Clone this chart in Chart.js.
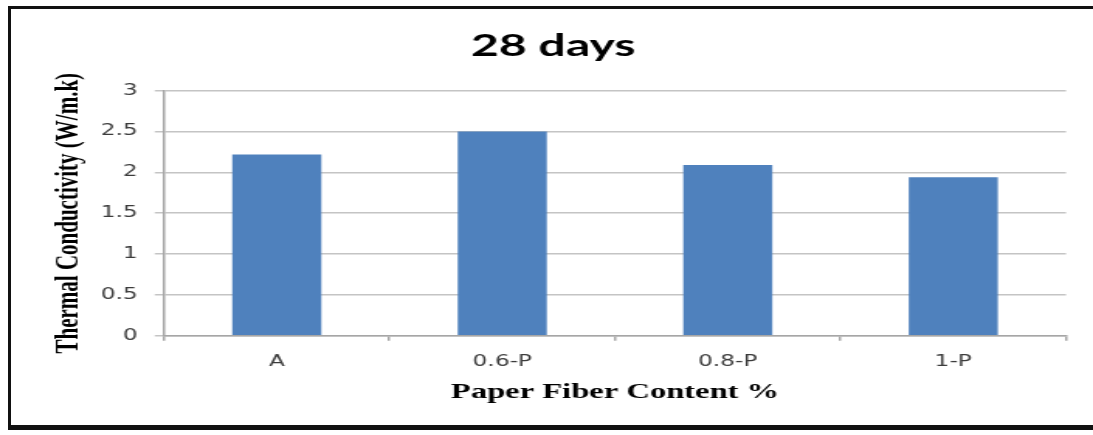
<!DOCTYPE html>
<html>
<head>
<meta charset="utf-8">
<title>28 days – Thermal Conductivity</title>
<script src="https://cdn.jsdelivr.net/npm/chart.js@4/dist/chart.umd.min.js"></script>
<style>
  html, body { margin: 0; padding: 0; background: #fff; }
  #wrap { position: relative; width: 1093px; height: 435px; overflow: hidden; background: #fff; }
  /* the chart is drawn on a narrower canvas and stretched horizontally */
  #c { position: absolute; left: 0; top: 0; }
  #frame {
    position: absolute; left: 8px; top: 6px; width: 1100px; height: 424px;
    border-left: 3px solid #111; border-top: 3px solid #111; border-bottom: 5px solid #111;
    box-sizing: border-box; pointer-events: none;
  }
</style>
</head>
<body>
<div id="wrap">
  <canvas id="c" width="705" height="435" style="width:1093px;height:435px"></canvas>
  <div id="frame"></div>
</div>
<script>
// Data
const categories = ['A', '0.6-P', '0.8-P', '1-P'];
const conductivity = [2.22, 2.5, 2.09, 1.94];
const yTicks = [0, 0.5, 1, 1.5, 2, 2.5, 3];
const chartTitle = '28 days';
const xTitle = 'Paper Fiber Content %';
const yTitle = 'Thermal Conductivity (W/m.k)';

function draw() {
  const canvas = document.getElementById('c');
  new Chart(canvas.getContext('2d'), {
    type: 'bar',
    data: {
      labels: categories,
      datasets: [{
        data: conductivity,
        backgroundColor: '#4f81bd',
        borderWidth: 0,
        barPercentage: 0.395,
        categoryPercentage: 1.0
      }]
    },
    options: {
      responsive: false,
      animation: false,
      devicePixelRatio: 1,
      layout: { padding: { left: 26, right: 17.4, top: 0, bottom: 0 } },
      plugins: {
        legend: { display: false },
        tooltip: { enabled: false },
        title: {
          display: true,
          text: chartTitle,
          color: '#000',
          font: { family: 'Lato', weight: 'bold', size: 31 },
          padding: { top: 27.4, bottom: 26.1 }
        }
      },
      scales: {
        x: {
          grid: { offset: true, drawOnChartArea: false, drawTicks: true, tickLength: 5, color: '#a6a6a6', lineWidth: 1.5 },
          border: { display: true, color: '#a6a6a6', width: 1.5 },
          ticks: { color: '#3c3c3c', font: { family: 'DejaVu Sans', size: 15 }, padding: 12 },
          title: {
            display: true,
            text: xTitle,
            color: '#000',
            font: { family: 'Liberation Serif', weight: 'bold', size: 21 },
            padding: { top: 0, bottom: 30 }
          },
          afterFit(scale) { scale.height = 99.3; }
        },
        y: {
          min: yTicks[0],
          max: yTicks[yTicks.length - 1],
          afterBuildTicks(scale) { scale.ticks = yTicks.map(v => ({ value: v })); },
          grid: { color: '#c4c4c4', lineWidth: 1.5, tickLength: 6 },
          border: { display: true, color: '#a6a6a6', width: 1.5 },
          ticks: {
            color: '#3c3c3c',
            font: { family: 'DejaVu Sans', size: 15 },
            padding: 11,
            callback: v => String(v)
          },
          title: {
            display: true,
            text: yTitle,
            color: '#000',
            font: { family: 'Liberation Serif', weight: 'bold', size: 21 },
            padding: { top: 6.4, bottom: 0 }
          },
          afterFit(scale) { scale.width = 79.8; }
        }
      }
    }
  });
  // keep the horizontal stretch of the drawing surface
  canvas.style.width = '1093px';
  canvas.style.height = '435px';
}

const fontLoads = [
  'bold 31px Lato', '15px "DejaVu Sans"', 'bold 21px "Liberation Serif"'
].map(f => document.fonts.load(f).catch(() => null));
Promise.all(fontLoads).then(draw, draw);
</script>
</body>
</html>
